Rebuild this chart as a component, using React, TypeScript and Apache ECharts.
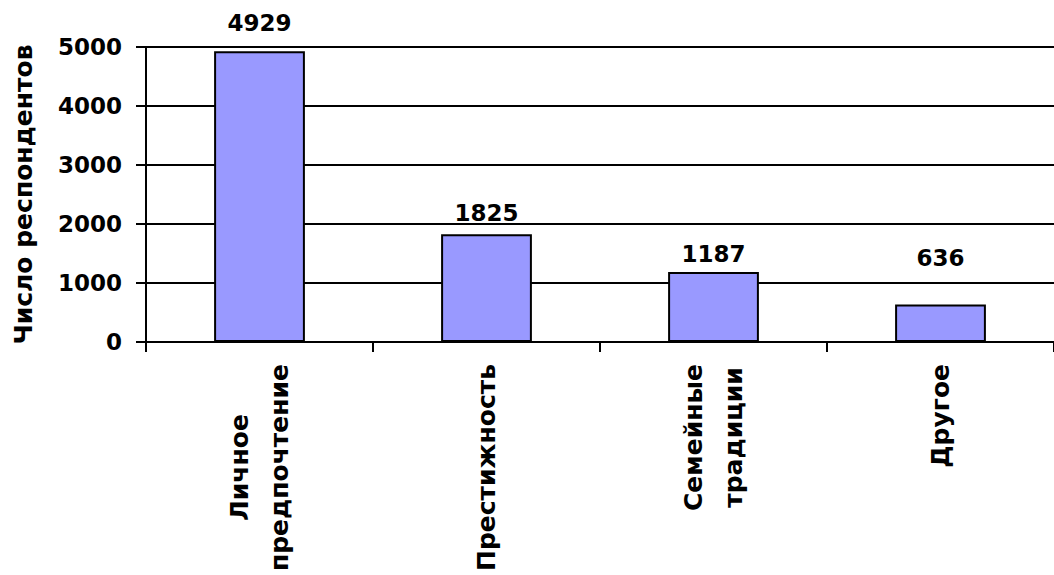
import React, { useEffect, useRef } from "react";
import * as echarts from "echarts";

const categories: string[] = ["Личное\nпредпочтение", "Престижность", "Семейные\nтрадиции", "Другое"];
const respondents: number[] = [4929, 1825, 1187, 636];
const yTicks: number[] = [0, 1000, 2000, 3000, 4000, 5000];
const yAxisTitle = "Число респондентов";
const labelGaps: number[] = [17, 10, 6, 35];

const FONT = "'DejaVu Sans', 'Liberation Sans', Arial, sans-serif";

export default function App() {
  const ref = useRef<HTMLDivElement>(null);
  useEffect(() => {
    if (!ref.current) return;
    const chart = echarts.init(ref.current, null, { renderer: "svg" });
    chart.setOption({
      animation: false,
      backgroundColor: "#ffffff",
      grid: { left: 146, top: 47, width: 918, height: 295, containLabel: false },
      xAxis: {
        type: "category",
        data: categories,
        axisLine: { lineStyle: { color: "#000", width: 2 } },
        axisTick: { show: true, length: 10, inside: false, lineStyle: { color: "#000", width: 2 } },
        axisLabel: {
          rotate: 90,
          margin: 22,
          interval: 0,
          color: "#000",
          formatter: (v: string) => v.split("\n").map((l) => `{c|${l}}`).join("\n"),
          rich: {
            c: {
              fontFamily: FONT,
              fontWeight: "bold",
              fontSize: 25,
              color: "#000",
              align: "center",
              lineHeight: 40,
            },
          },
        },
      },
      yAxis: {
        type: "value",
        min: yTicks[0],
        max: yTicks[yTicks.length - 1],
        interval: 1000,
        name: yAxisTitle,
        nameLocation: "middle",
        nameGap: 110,
        nameTextStyle: { fontFamily: FONT, fontWeight: "bold", fontSize: 25, color: "#000" },
        axisLine: { show: true, lineStyle: { color: "#000", width: 2 } },
        axisTick: { show: true, length: 10, lineStyle: { color: "#000", width: 2 } },
        axisLabel: {
          margin: 24,
          fontFamily: FONT,
          fontWeight: "bold",
          fontSize: 23,
          color: "#000",
          formatter: (v: number) => String(v),
        },
        splitLine: { show: true, lineStyle: { color: "#000", width: 2 } },
      },
      series: [
        {
          type: "bar",
          barWidth: "40%",
          data: respondents.map((v, i) => ({ value: v, label: { distance: labelGaps[i] } })),
          itemStyle: { color: "#9999FF", borderColor: "#000", borderWidth: 2 },
          label: {
            show: true,
            position: "top",
            fontFamily: FONT,
            fontWeight: "bold",
            fontSize: 23,
            color: "#000",
          },
        },
      ],
    });
    return () => chart.dispose();
  }, []);
  return (
    <div
      ref={ref}
      style={{ position: "absolute", left: 0, top: 0, width: 1054, height: 575, background: "#fff" }}
    />
  );
}
